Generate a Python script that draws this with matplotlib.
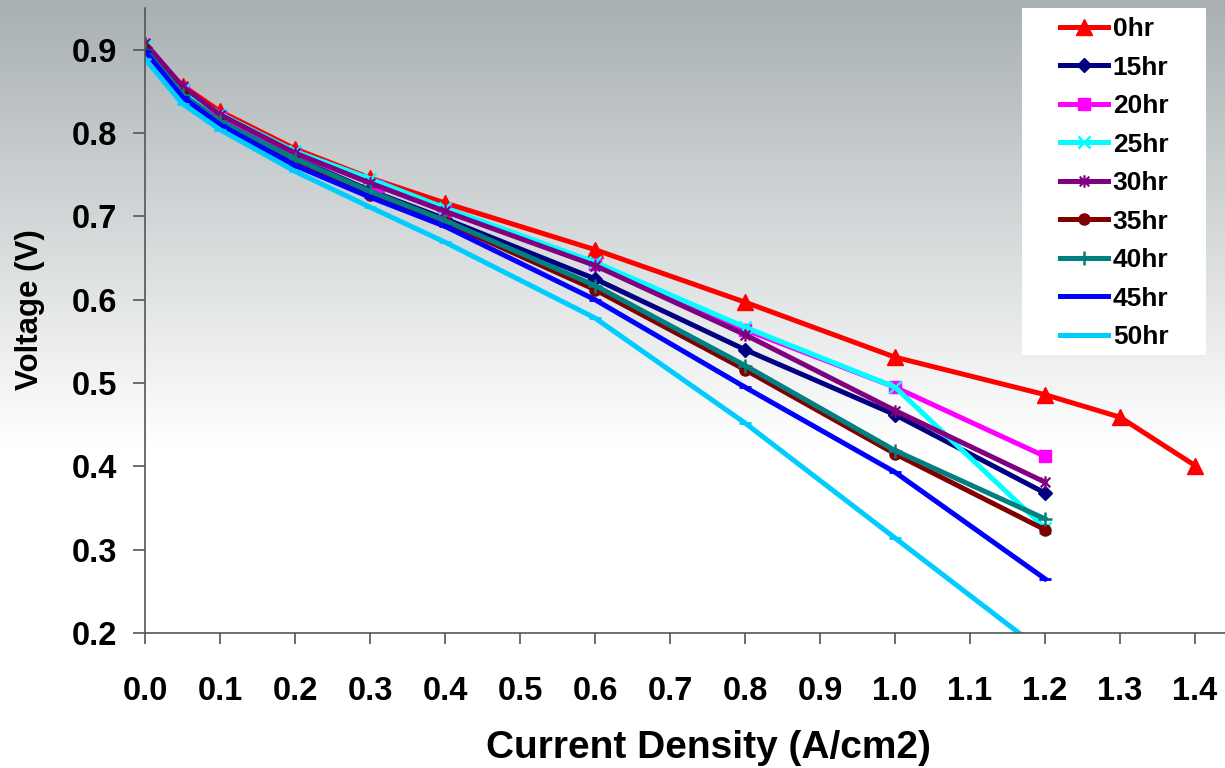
import numpy as np
import matplotlib
matplotlib.use("Agg")
import matplotlib.pyplot as plt
from matplotlib.path import Path
from matplotlib.patches import Rectangle

# polarisation curves
x_main = [0.0, 0.05, 0.1, 0.2, 0.3, 0.4, 0.6, 0.8, 1.0, 1.2]
x_0hr = [0.0, 0.05, 0.1, 0.2, 0.3, 0.4, 0.6, 0.8, 1.0, 1.2, 1.3, 1.4]
x_20hr = [0.0, 0.05, 0.1, 0.2, 0.31, 0.4, 0.6, 0.8, 1.0, 1.2]

v_0hr = [0.900, 0.857, 0.826, 0.781, 0.746, 0.716, 0.660, 0.597, 0.531, 0.486, 0.459, 0.401]
v_15hr = [0.902, 0.847, 0.815, 0.770, 0.731, 0.697, 0.625, 0.540, 0.462, 0.368]
v_20hr = [0.895, 0.852, 0.820, 0.775, 0.737, 0.706, 0.643, 0.564, 0.495, 0.412]
v_25hr = [0.905, 0.852, 0.823, 0.778, 0.745, 0.710, 0.645, 0.567, 0.495, 0.326]
v_30hr = [0.908, 0.856, 0.822, 0.776, 0.740, 0.706, 0.641, 0.558, 0.467, 0.381]
v_35hr = [0.900, 0.846, 0.811, 0.765, 0.726, 0.693, 0.612, 0.516, 0.415, 0.324]
v_40hr = [0.900, 0.846, 0.814, 0.769, 0.730, 0.695, 0.617, 0.521, 0.419, 0.337]
v_45hr = [0.898, 0.843, 0.810, 0.761, 0.723, 0.688, 0.600, 0.495, 0.393, 0.265]
v_50hr = [0.889, 0.835, 0.804, 0.754, 0.711, 0.669, 0.578, 0.452, 0.314, 0.176]

labels = ["0hr", "15hr", "20hr", "25hr", "30hr", "35hr", "40hr", "45hr", "50hr"]
colors = ["#FF0000", "#000080", "#FF00FF", "#00FFFF", "#800080",
          "#800000", "#008080", "#0000FF", "#00CCFF"]

# excel style star marker: x plus a vertical bar
star = Path([(-1, -1), (1, 1), (-1, 1), (1, -1), (0, -1.3), (0, 1.3)],
            [Path.MOVETO, Path.LINETO, Path.MOVETO, Path.LINETO, Path.MOVETO, Path.LINETO])

plt.rcParams['font.family'] = ['Liberation Sans', 'DejaVu Sans']
plt.rcParams['font.weight'] = 'bold'

fig = plt.figure(figsize=(12.25, 7.68), dpi=100)

# grey-to-white background
bg = fig.add_axes([0, 0, 1, 1], zorder=-10)
rows = np.linspace(0, 1, 400)
t = np.clip(rows / 0.58, 0, 1)
top = np.array([0.66, 0.69, 0.70])
grad = top[None, :] * (1 - t[:, None]) + np.ones(3)[None, :] * t[:, None]
grad = np.repeat(grad[:, None, :], 2, axis=1)
bg.imshow(grad, aspect='auto', extent=[0, 1, 0, 1], origin='upper')
bg.axis('off')

ax = fig.add_axes([145 / 1225, 135 / 768, 1125 / 1225, 625 / 768])
ax.set_facecolor('none')

series = [
    (x_0hr, v_0hr, dict(marker='^', ms=11)),
    (x_main, v_15hr, dict(marker='D', ms=7)),
    (x_20hr, v_20hr, dict(marker='s', ms=8)),
    (x_main, v_25hr, dict(marker='x', ms=9, mew=1.8)),
    (x_main, v_30hr, dict(marker=star, ms=9, mew=1.6)),
    (x_main, v_35hr, dict(marker='o', ms=8)),
    (x_main, v_40hr, dict(marker='+', ms=10, mew=1.8)),
    (x_main, v_45hr, dict(marker='_', ms=8, mew=2)),
    (x_main, v_50hr, dict(marker='_', ms=8, mew=2)),
]
for (xs, ys, mk), lab, c in zip(series, labels, colors):
    ax.plot(xs, ys, color=c, lw=3.6, label=lab, mfc=c, mec=c, **mk)

ax.set_xlim(0, 1.5)
ax.set_ylim(0.2, 0.95)
ax.set_xticks(np.arange(0, 1.41, 0.1))
ax.set_xticklabels([f"{v:.1f}" for v in np.arange(0, 1.41, 0.1)])
ax.set_yticks(np.arange(0.2, 0.91, 0.1))
ax.set_yticklabels([f"{v:.1f}" for v in np.arange(0.2, 0.91, 0.1)])

for s in ['top', 'right']:
    ax.spines[s].set_visible(False)
for s in ['left', 'bottom']:
    ax.spines[s].set_color('#555555')
    ax.spines[s].set_linewidth(1.2)

ax.tick_params(axis='x', direction='out', length=8, width=1.2, color='#555555',
               labelsize=23.5, pad=23)
ax.tick_params(axis='y', direction='out', length=9, width=1.2, color='#555555',
               labelsize=23.5, pad=11)

fig.text(30 / 1225, 1 - 310 / 768, 'Voltage (V)', rotation=90, ha='center', va='center',
         fontsize=22.5, fontweight='bold')
fig.text(708 / 1225, 1 - 748 / 768, 'Current Density (A/cm2)', ha='center', va='center',
         fontsize=28, fontweight='bold')

# legend on a white box
fig.patches.append(Rectangle((1022 / 1225, 1 - 355 / 768), 184 / 1225, 347 / 768,
                             transform=fig.transFigure, facecolor='white',
                             edgecolor='none', zorder=5))
leg = fig.legend(loc='upper left', bbox_to_anchor=(1060 / 1225, 1 - 17 / 768),
                 frameon=False, handlelength=1.8, handletextpad=0.2,
                 labelspacing=0.55, borderaxespad=0, borderpad=0,
                 prop={'weight': 'bold', 'size': 19})
leg.set_zorder(6)

fig.savefig('out.png', dpi=100)
